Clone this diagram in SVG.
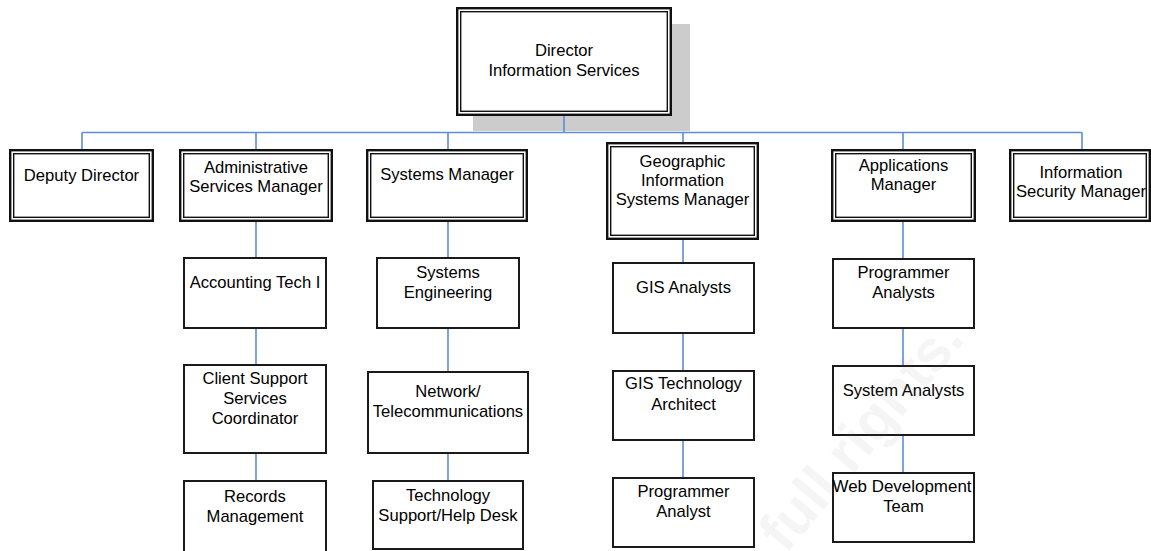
<svg xmlns="http://www.w3.org/2000/svg" width="1151" height="551" viewBox="0 0 1151 551">
  <style>
    .lbl { font-family: "Liberation Sans", Arial, sans-serif; font-size: 16.6px; fill: #000; text-anchor: middle; }
    .box { fill: #fff; stroke: #1a1a1a; stroke-width: 2; }
    .dbl-out { fill: #fff; stroke: #111; stroke-width: 2.4; }
    .dbl-in { fill: none; stroke: #111; stroke-width: 1.4; }
    .conn { fill: none; stroke: #5b8ed6; stroke-width: 1.6; }
    .mark { font-family: "Liberation Sans", Arial, sans-serif; font-weight: bold; font-size: 58px; fill: #777; fill-opacity: 0.07; }
  </style>

  <rect width="1151" height="551" fill="#fff"/>

  <!-- drop shadow behind the director box -->
  <rect x="473" y="24" width="217" height="107" fill="#cccccc"/>

  <g id="connectors" class="conn">
    <path d="M564 116V132.5M82 132.5H1082M82 132.5V149M256 132.5V149M448 132.5V149M683 132.5V142M903 132.5V149M1082 132.5V149"/>
    <path d="M256 222V480"/>
    <path d="M448 222V480"/>
    <path d="M683 240V477"/>
    <path d="M903 222V472"/>
  </g>

  <g id="director">
    <rect class="dbl-out" x="457.2" y="8.2" width="213.6" height="106.6"/>
    <rect class="dbl-in" x="460.7" y="11.7" width="206.6" height="99.6"/>
    <text class="lbl" x="564" y="55.5">Director</text>
    <text class="lbl" x="564" y="75.5">Information Services</text>
  </g>

  <g id="deputy-director">
    <rect class="dbl-out" x="10.2" y="150.2" width="142.6" height="70.6"/>
    <rect class="dbl-in" x="13.7" y="153.7" width="135.6" height="63.6"/>
    <text class="lbl" x="81.5" y="180.7">Deputy Director</text>
  </g>

  <g id="admin-services-manager">
    <rect class="dbl-out" x="180.2" y="150.2" width="151.6" height="70.6"/>
    <rect class="dbl-in" x="183.7" y="153.7" width="144.6" height="63.6"/>
    <text class="lbl" x="256" y="172.7">Administrative</text>
    <text class="lbl" x="256" y="191.7">Services Manager</text>
  </g>

  <g id="systems-manager">
    <rect class="dbl-out" x="367.2" y="150.2" width="159.6" height="70.6"/>
    <rect class="dbl-in" x="370.7" y="153.7" width="152.6" height="63.6"/>
    <text class="lbl" x="447" y="180">Systems Manager</text>
  </g>

  <g id="gis-manager">
    <rect class="dbl-out" x="607.2" y="143.2" width="150.6" height="95.6"/>
    <rect class="dbl-in" x="610.7" y="146.7" width="143.6" height="88.6"/>
    <text class="lbl" x="682.5" y="166.7">Geographic</text>
    <text class="lbl" x="682.5" y="185.7">Information</text>
    <text class="lbl" x="682.5" y="205">Systems Manager</text>
  </g>

  <g id="applications-manager">
    <rect class="dbl-out" x="832.2" y="150.2" width="142.6" height="70.6"/>
    <rect class="dbl-in" x="835.7" y="153.7" width="135.6" height="63.6"/>
    <text class="lbl" x="903.5" y="170.7">Applications</text>
    <text class="lbl" x="903.5" y="190">Manager</text>
  </g>

  <g id="info-security-manager">
    <rect class="dbl-out" x="1010.2" y="150.2" width="139.6" height="70.6"/>
    <rect class="dbl-in" x="1013.7" y="153.7" width="132.6" height="63.6"/>
    <text class="lbl" x="1081" y="177.7">Information</text>
    <text class="lbl" x="1081" y="197.3">Security Manager</text>
  </g>

  <g id="accounting-tech">
    <rect class="box" x="184" y="258" width="142" height="70"/>
    <text class="lbl" x="255" y="288.3">Accounting Tech I</text>
  </g>

  <g id="client-support">
    <rect class="box" x="184" y="365" width="142" height="88"/>
    <text class="lbl" x="255" y="384">Client Support</text>
    <text class="lbl" x="255" y="404">Services</text>
    <text class="lbl" x="255" y="424.3">Coordinator</text>
  </g>

  <g id="records-management">
    <rect class="box" x="184" y="481" width="142" height="78"/>
    <text class="lbl" x="255" y="501.7">Records</text>
    <text class="lbl" x="255" y="521.7">Management</text>
  </g>

  <g id="systems-engineering">
    <rect class="box" x="377" y="258" width="142" height="70"/>
    <text class="lbl" x="448" y="278.3">Systems</text>
    <text class="lbl" x="448" y="298.3">Engineering</text>
  </g>

  <g id="network-telecom">
    <rect class="box" x="368" y="372" width="160" height="81"/>
    <text class="lbl" x="448" y="396.7">Network/</text>
    <text class="lbl" x="448" y="416.7">Telecommunications</text>
  </g>

  <g id="tech-support">
    <rect class="box" x="373" y="481" width="150" height="68"/>
    <text class="lbl" x="448" y="500.7">Technology</text>
    <text class="lbl" x="448" y="520.7">Support/Help Desk</text>
  </g>

  <g id="gis-analysts">
    <rect class="box" x="613" y="263" width="141" height="70"/>
    <text class="lbl" x="683.5" y="292.7">GIS Analysts</text>
  </g>

  <g id="gis-tech-architect">
    <rect class="box" x="613" y="371" width="141" height="69"/>
    <text class="lbl" x="683.5" y="389.3">GIS Technology</text>
    <text class="lbl" x="683.5" y="410">Architect</text>
  </g>

  <g id="gis-programmer-analyst">
    <rect class="box" x="613" y="478" width="141" height="69"/>
    <text class="lbl" x="683.5" y="496.7">Programmer</text>
    <text class="lbl" x="683.5" y="517.3">Analyst</text>
  </g>

  <g id="programmer-analysts">
    <rect class="box" x="833" y="259" width="141" height="69"/>
    <text class="lbl" x="903.5" y="277.7">Programmer</text>
    <text class="lbl" x="903.5" y="297.7">Analysts</text>
  </g>

  <g id="system-analysts">
    <rect class="box" x="833" y="366" width="141" height="69"/>
    <text class="lbl" x="903.5" y="396">System Analysts</text>
  </g>

  <g id="web-development">
    <rect class="box" x="833" y="473" width="141" height="69"/>
    <text class="lbl" x="902" y="491.7" textLength="139" lengthAdjust="spacingAndGlyphs">Web Development</text>
    <text class="lbl" x="903.5" y="511.7">Team</text>
  </g>

  <!-- faint diagonal watermark over the page -->
  <text class="mark" transform="translate(966 340) rotate(-50)" text-anchor="end">full rights.</text>
</svg>
